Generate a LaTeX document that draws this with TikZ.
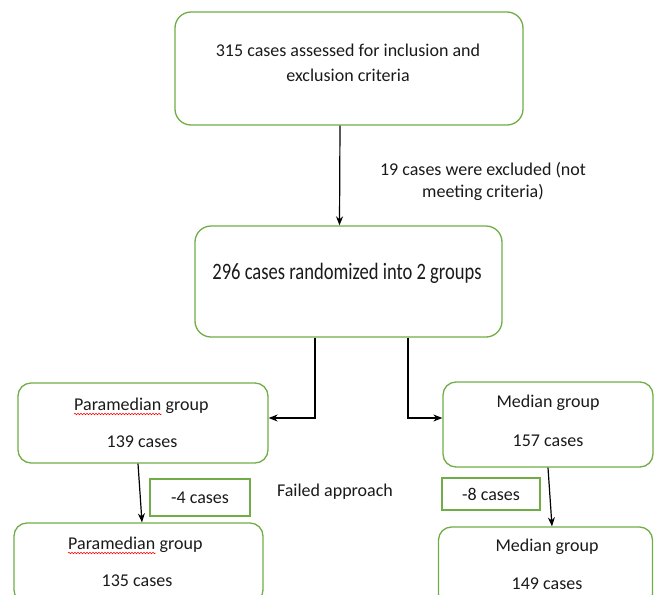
\documentclass[tikz,border=0pt]{standalone}
\usepackage{fontspec}
\setmainfont{Carlito}
\usetikzlibrary{arrows.meta,decorations.pathmorphing}
\definecolor{boxgreen}{HTML}{70AD47}
\definecolor{txtgray}{HTML}{1A1A1A}
\tikzset{
  gbox/.style={draw=boxgreen, line width=1.3pt, rounded corners=13pt, inner sep=0pt},
  minusbox/.style={draw=boxgreen, line width=1.3pt, inner sep=0pt},
  txt/.style={inner sep=0pt, text=txtgray, font=\fontsize{18}{21}\selectfont, anchor=center},
  arr/.style={line width=1.2pt, -{Stealth[length=9pt,width=7pt]}},
  squig/.style={red, line width=0.6pt, decorate, decoration={snake, amplitude=0.7pt, segment length=3pt}}
}
\begin{document}
\begin{tikzpicture}[x=1pt,y=-1pt]
\useasboundingbox (0,0) rectangle (654,595);
\clip (0,0) rectangle (654,595);
% boxes
\node[gbox, rounded corners=16pt, minimum width=348pt, minimum height=113pt] (top) at (349,68.5) {};
\node[gbox, rounded corners=16pt, minimum width=307pt, minimum height=111pt] (rand) at (348.5,281.5) {};
\node[gbox, minimum width=250pt, minimum height=80pt] (p1) at (143,423) {};
\node[gbox, minimum width=249pt, minimum height=80pt] (p2) at (138.5,563) {};
\node[gbox, minimum width=210pt, minimum height=85pt] (m1) at (548,424.5) {};
\node[gbox, minimum width=214pt, minimum height=80pt] (m2) at (545.5,567) {};
\node[minusbox, minimum width=100pt, minimum height=37pt] (mf) at (200,497.5) {};
\node[minusbox, minimum width=98pt, minimum height=32pt] (me) at (491,494) {};
% texts
\node[txt] (t1) at (348,50) {315 cases assessed for inclusion and};
\node[txt] (t2) at (348,75) {exclusion criteria};
\node[txt] (ex1) at (483,170) {19 cases were excluded (not};
\node[txt] (ex2) at (483,192) {meeting criteria)};
\node[inner sep=0pt, text=txtgray] (rt) at (347,273) {\scalebox{0.79}[1]{\fontsize{23.5}{26}\selectfont 296 cases randomized into 2 groups}};
\node[txt, anchor=base west] (pw1) at (74,410) {Paramedian};
\node[txt, anchor=base west] (pg1) at (pw1.base east) {\ group};
\node[txt] (pc1) at (142,442) {139 cases};
\node[txt, anchor=base west] (pw2) at (68,549) {Paramedian};
\node[txt, anchor=base west] (pg2) at (pw2.base east) {\ group};
\node[txt] (pc2) at (137,581) {135 cases};
\node[txt] (mg1) at (548,403) {Median group};
\node[txt] (mc1) at (548,441) {157 cases};
\node[txt] (mg2) at (547,547) {Median group};
\node[txt] (mc2) at (547,584) {149 cases};
\node[txt] (mft) at (mf.center) {-4 cases};
\node[txt] (met) at (me.center) {-8 cases};
\node[txt] (fa) at (335,492) {Failed approach};
% squiggles
\draw[squig] ([yshift=-4pt]pw1.base west) -- ([yshift=-4pt]pw1.base east);
\draw[squig] ([yshift=-4pt]pw2.base west) -- ([yshift=-4pt]pw2.base east);
% connectors
\draw[arr] ([xshift=-9pt]top.south) -- ([xshift=-9pt]rand.north);
\draw[arr] ([xshift=-33.5pt]rand.south) |- ([yshift=5pt]p1.east);
\draw[arr] ([xshift=59.5pt]rand.south) |- ([yshift=6.5pt]m1.west);
\draw[arr] ([xshift=-5pt]p1.south) -- ([xshift=3.5pt]p2.north);
\draw[arr] (m1.south) -- ([xshift=6.5pt]m2.north);
\end{tikzpicture}
\end{document}
